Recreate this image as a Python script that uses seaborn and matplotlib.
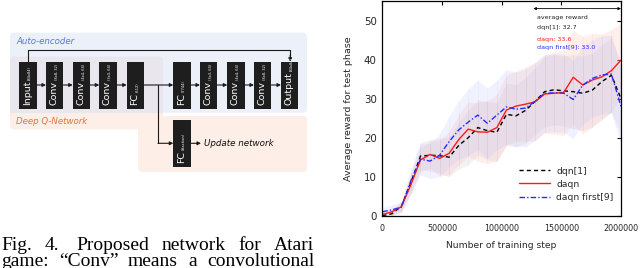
import matplotlib
matplotlib.use("Agg")
import numpy as np
import pandas as pd
import matplotlib.pyplot as plt
from matplotlib.patches import FancyBboxPatch, Rectangle
import seaborn as sns

# ---- data ----
steps = list(range(0, 2000001, 80000))
dqn = [0.0, 0.5, 2.4, 8.5, 15.3, 15.5, 15.4, 15.0, 18.0, 20.0, 22.6, 21.8, 21.4,
       26.0, 25.6, 27.0, 29.3, 31.8, 32.3, 32.0, 31.8, 31.4, 32.2, 34.4, 36.0, 30.0]
daqn = [0.3, 1.0, 2.3, 8.0, 14.3, 15.7, 14.7, 16.0, 19.5, 22.2, 21.5, 21.4, 22.6,
        27.1, 28.1, 28.6, 29.2, 31.2, 31.4, 31.6, 35.5, 33.5, 34.8, 35.6, 37.2, 39.9]
daqn_first = [1.0, 1.5, 2.2, 9.0, 14.5, 14.0, 15.5, 19.0, 22.0, 24.0, 25.8, 23.7, 25.8,
              27.9, 27.3, 27.6, 29.3, 31.4, 31.5, 31.4, 29.8, 33.5, 35.2, 36.1, 36.3, 28.0]
# half widths of the shaded bands
dqn_sd = [0.5, 0.8, 1.2, 2.5, 3.5, 4.0, 4.5, 5.0, 6.0, 7.0, 7.0, 7.5, 7.5, 8.0, 8.0,
          8.5, 8.5, 9.0, 9.0, 9.0, 9.5, 9.5, 9.5, 9.5, 9.5, 9.0]
daqn_sd = [0.5, 0.8, 1.2, 2.5, 3.0, 3.5, 4.5, 5.5, 6.5, 7.0, 7.5, 8.0, 8.5, 9.0, 9.0,
           9.5, 10.0, 10.0, 10.5, 11.0, 12.0, 12.5, 12.0, 11.0, 10.5, 9.5]
first_sd = [1.0, 1.2, 1.5, 3.0, 4.0, 4.5, 5.5, 6.5, 7.5, 8.5, 9.0, 9.0, 9.0, 9.5, 9.5,
            10.0, 10.0, 10.0, 10.0, 10.0, 10.0, 10.0, 10.0, 10.0, 10.0, 10.0]
avg_text = ["dqn[1]: 32.7", "daqn: 33.6", "daqn first[9]: 33.0"]
labels = ["dqn[1]", "daqn", "daqn first[9]"]

# diagram boxes: (label, sub label, left x)
top_boxes = [("Input", "(84x84)", 19.3), ("Conv", "(8x8, 32)", 46.0),
             ("Conv", "(4x4, 64)", 72.7), ("Conv", "(3x3, 64)", 99.3),
             ("FC", "(512)", 126.7), ("FC", "(7744)", 173.3),
             ("Conv", "(3x3, 64)", 200.0), ("Conv", "(4x4, 64)", 227.3),
             ("Conv", "(8x8, 32)", 254.0), ("Output", "(84x84)", 281.0)]
caption = ["Fig. 4.  Proposed network for Atari",
           "game: \u201cConv\u201d means a convolutional",
           "layer"]

df = pd.DataFrame({"step": steps * 3,
                   "reward": dqn + daqn + daqn_first,
                   "model": [labels[0]] * 26 + [labels[1]] * 26 + [labels[2]] * 26})

sns.set_style("white")
plt.rcParams["font.family"] = ["DejaVu Sans"]

fig = plt.figure(figsize=(6.4, 2.68), dpi=100)
renderer = fig.canvas.get_renderer()

# ---------------- left part: network diagram + caption ----------------
dax = fig.add_axes([0, 0, 1, 1])
dax.set_xlim(0, 640)
dax.set_ylim(268, 0)
dax.axis("off")


def rbox(x0, y0, x1, y1, fc, r=4, z=1):
    dax.add_patch(FancyBboxPatch((x0, y0), x1 - x0, y1 - y0,
                                 boxstyle=f"round,pad=0,rounding_size={r}",
                                 fc=fc, ec="none", zorder=z))


rbox(138, 116, 307, 172, "#fdeee7")
rbox(10, 56.7, 163, 129.3, "#fdeee7")
rbox(10, 32.7, 307, 112.7, "#ebf0f9", z=2)
rbox(10, 56.7, 163, 112.7, "#e9e6ee", r=4, z=3)
dax.add_patch(Rectangle((10, 104), 153, 8.7, fc="#e9e6ee", ec="none", zorder=3))
dax.text(16, 42, "Auto-encoder", color="#5a78d8", style="italic", fontsize=6.2,
         va="center", ha="left", zorder=5)
dax.text(16, 121, "Deep Q-Network", color="#e07840", style="italic", fontsize=6.2,
         va="center", ha="left", zorder=5)

box_w = 17.4
acol = "#1a1a1a"


def nbox(x0, y0, y1, main, sub):
    dax.add_patch(Rectangle((x0, y0), box_w, y1 - y0, fc="#1e1e1e", ec="none", zorder=6))
    cx = x0 + box_w / 2
    t = dax.text(cx - 0.5, y1 - 4, main, rotation=90, color="white", fontsize=6.8,
                 ha="center", va="bottom", zorder=7)
    bb = t.get_window_extent(renderer)
    ytop = 268 - bb.y1
    dax.text(cx + 2.2, ytop - 1, sub, rotation=90, color="white", fontsize=2.6,
             ha="center", va="bottom", zorder=7)


for main, sub, x0 in top_boxes:
    nbox(x0, 61.7, 109.3, main, sub)
nbox(173.3, 120, 166.7, "FC", "(#action)")

arrow_kw = dict(arrowstyle="-|>", color=acol, lw=0.8, mutation_scale=5,
                shrinkA=0, shrinkB=0)
for i in range(len(top_boxes) - 1):
    x_from = top_boxes[i][2] + box_w
    x_to = top_boxes[i + 1][2]
    dax.annotate("", xy=(x_to, 85), xytext=(x_from, 85), arrowprops=arrow_kw, zorder=5)
# branch to the action head
dax.plot([158, 158], [85, 143.3], color=acol, lw=0.8, zorder=5)
dax.annotate("", xy=(173.3, 143.3), xytext=(158, 143.3), arrowprops=arrow_kw, zorder=5)
dax.annotate("", xy=(201, 143.3), xytext=(190.7, 143.3), arrowprops=arrow_kw, zorder=5)
dax.text(204, 143.3, "Update network", style="italic", fontsize=6.3, color="#111111",
         va="center", ha="left", zorder=5)
# skip connection over the top
dax.plot([28, 28, 290.2, 290.2], [61.7, 50, 50, 56], color=acol, lw=0.8, zorder=5)
dax.annotate("", xy=(290.2, 61.7), xytext=(290.2, 55), arrowprops=arrow_kw, zorder=5)

# justified caption
base_y = [249.5, 265.5, 282.5]
for li, line in enumerate(caption):
    words = line.split()
    ts = [dax.text(0, base_y[li], w, family="Liberation Serif", fontsize=14.0,
                   va="baseline", ha="left", color="black") for w in words]
    widths = [t.get_window_extent(renderer).width for t in ts]
    extra = 5 if li == 0 else 0
    gap = (313 - sum(widths) - extra) / (len(words) - 1) if len(words) > 1 else 0
    x = 1.0
    for k, (t, w) in enumerate(zip(ts, widths)):
        t.set_x(x)
        x += w + gap + (extra if k == 1 else 0)

# ---------------- right part: reward curves ----------------
ax = fig.add_axes([382.3 / 640, (268 - 215.7) / 268, 238.7 / 640, 214.5 / 268])

bands = [(dqn, dqn_sd, "#b8a8c0", 0.16), (daqn, daqn_sd, "#ffb8a8", 0.22),
         (daqn_first, first_sd, "#b0b8ff", 0.18)]
for vals, sd, c, a in bands:
    lo = [v - s for v, s in zip(vals, sd)]
    hi = [v + s for v, s in zip(vals, sd)]
    ax.fill_between(steps, lo, hi, color=c, alpha=a, lw=0)
    ax.vlines(steps, lo, hi, color="#a090b0", alpha=0.07, lw=0.5)

palette = {labels[0]: "#000000", labels[1]: "#ff1a1a", labels[2]: "#2a2aff"}
dashes = {labels[0]: (3, 2.2), labels[1]: "", labels[2]: (4, 1.5, 1, 1.5)}
sns.lineplot(data=df, x="step", y="reward", hue="model", style="model",
             palette=palette, dashes=dashes, lw=1.0, ax=ax, legend=False)

handles = [plt.Line2D([], [], color=palette[l], lw=1.0,
                      dashes=dashes[l] if dashes[l] else (None, None)) for l in labels]
ax.legend(handles, labels, loc="lower right", bbox_to_anchor=(0.995, 0.035),
          frameon=False, fontsize=6.6, handlelength=3.3, handletextpad=0.7,
          labelspacing=0.45, borderpad=0.2)

ax.set_xlim(0, 2000000)
ax.set_ylim(0, 55)
ax.set_xticks([0, 500000, 1000000, 1500000, 2000000])
ax.set_xticklabels(["0", "500000", "1000000", "1500000", "2000000"])
ax.set_yticks([0, 10, 20, 30, 40, 50])
ax.tick_params(axis="both", direction="in", top=True, right=True, length=3,
               width=0.8, color="black")
ax.tick_params(axis="x", labelsize=5.8, pad=6)
ax.tick_params(axis="y", labelsize=7.4, pad=4)
for s in ax.spines.values():
    s.set_color("black")
    s.set_linewidth(0.9)
ax.set_xlabel("Number of training step", fontsize=6.6, labelpad=6)
ax.set_ylabel("Average reward for test phase", fontsize=6.8, labelpad=8)

# average reward annotation
ax.annotate("", xy=(2000000, 53.1), xytext=(1265000, 53.1),
            arrowprops=dict(arrowstyle="<|-|>", color="black", lw=0.6,
                            mutation_scale=4, shrinkA=0, shrinkB=0))
ax.text(1300000, 50.8, "average reward", fontsize=4.6, color="#222222", va="center")
ann_cols = ["#222222", "#ff1a1a", "#2a2aff"]
for k, (txt, c) in enumerate(zip(avg_text, ann_cols)):
    ax.text(1300000, [48.2, 45.3, 43.0][k], txt, fontsize=4.6, color=c, va="center")

fig.savefig("out.png", dpi=100)
